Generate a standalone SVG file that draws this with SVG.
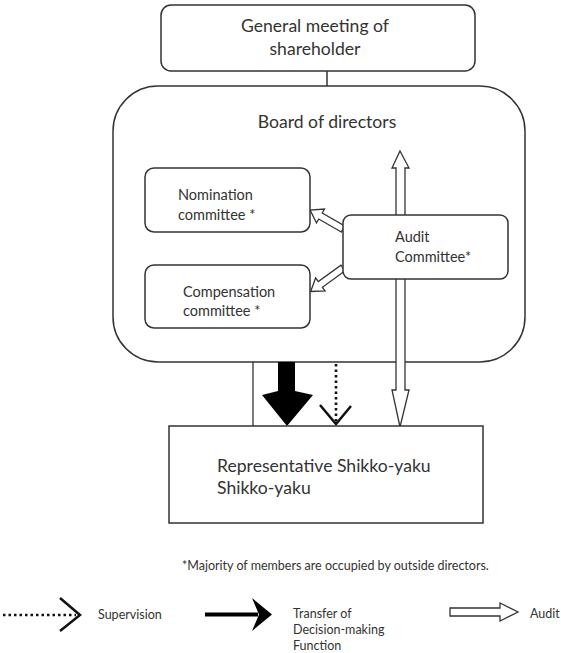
<svg xmlns="http://www.w3.org/2000/svg" width="561" height="653" viewBox="0 0 561 653">
<style>
.box{fill:#fff;stroke:#333;stroke-width:1.5}
.t{font-family:Lato,"Open Sans","Liberation Sans",sans-serif;fill:#333}
.big{font-size:17.6px}
.mid{font-size:14.5px}
.sm{font-size:12.5px}
.hollow{fill:#fff;stroke:#333;stroke-width:1.3;stroke-linejoin:miter}
.dot{stroke:#111;stroke-width:2.6;stroke-dasharray:2.5,3;fill:none}
.chev{fill:none;stroke:#111;stroke-width:2.5}
</style>
<rect width="561" height="653" fill="#fff"/>
<g id="connectors">
  <line x1="327" y1="71" x2="327" y2="86" stroke="#333" stroke-width="1.5"/>
</g>
<g id="board">
  <rect class="box" x="113" y="86" width="412" height="276" rx="45"/>
  <text class="t big" x="327" y="128" text-anchor="middle">Board of directors</text>
</g>
<g id="general-meeting">
  <rect class="box" x="161" y="5" width="314" height="66" rx="10"/>
  <text class="t big" x="315" y="32" text-anchor="middle">General meeting of</text>
  <text class="t big" x="315" y="55" text-anchor="middle">shareholder</text>
</g>
<g id="connectors-main">
  <polygon class="hollow" points="400,151 409,168 405,168 405,390 409,390 400,427 392,390 396,390 396,168 392,168"/>
  <polygon class="hollow" transform="translate(343,229) rotate(210)" points="0,-3.5 26,-3.5 26,-8 38,0 26,8 26,3.5 0,3.5"/>
  <polygon class="hollow" transform="translate(343,268) rotate(144)" points="0,-3.5 28,-3.5 28,-8 40,0 28,8 28,3.5 0,3.5"/>
  <line x1="253" y1="362" x2="253" y2="426" stroke="#333" stroke-width="1.3"/>
  <polygon fill="#000" points="278,362 295,362 295,391 313,395 287,426 262,395 278,391"/>
  <line class="dot" x1="336" y1="364" x2="336" y2="423"/>
  <polyline class="chev" points="320,405 336,424 351,406"/>
</g>
<g id="nomination">
  <rect class="box" x="145" y="168" width="165" height="64" rx="9"/>
  <text class="t mid" x="178" y="200">Nomination</text>
  <text class="t mid" x="178" y="220">committee *</text>
</g>
<g id="compensation">
  <rect class="box" x="145" y="265" width="165" height="63" rx="9"/>
  <text class="t mid" x="183" y="297">Compensation</text>
  <text class="t mid" x="183" y="316">committee *</text>
</g>
<g id="audit">
  <rect class="box" x="343" y="215" width="165" height="64" rx="8"/>
  <text class="t mid" x="395" y="242">Audit</text>
  <text class="t mid" x="395" y="262">Committee*</text>
</g>
<g id="executive">
  <rect class="box" x="169" y="426" width="314" height="97"/>
  <text class="t big" x="217" y="472">Representative Shikko-yaku</text>
  <text class="t big" x="217" y="494">Shikko-yaku</text>
</g>
<g id="footnote">
  <text class="t sm" x="182" y="570" font-size="12.8">*Majority of members are occupied by outside directors.</text>
</g>
<g id="legend">
  <line class="dot" x1="3" y1="615" x2="76" y2="615" stroke-width="3"/>
  <polyline class="chev" points="60,598 80,615 60,631" stroke-width="3"/>
  <text class="t sm" x="98" y="619">Supervision</text>
  <line x1="205" y1="614.5" x2="258" y2="614.5" stroke="#000" stroke-width="4"/>
  <polygon fill="#000" points="252,598 272,614.5 252,631 259,614.5"/>
  <text class="t sm" x="293" y="618">Transfer of</text>
  <text class="t sm" x="293" y="634">Decision-making</text>
  <text class="t sm" x="293" y="650">Function</text>
  <polygon class="hollow" points="450,608 500,608 500,603 518,612 500,621 500,616 450,616"/>
  <text class="t sm" x="530" y="618">Audit</text>
</g>
</svg>
